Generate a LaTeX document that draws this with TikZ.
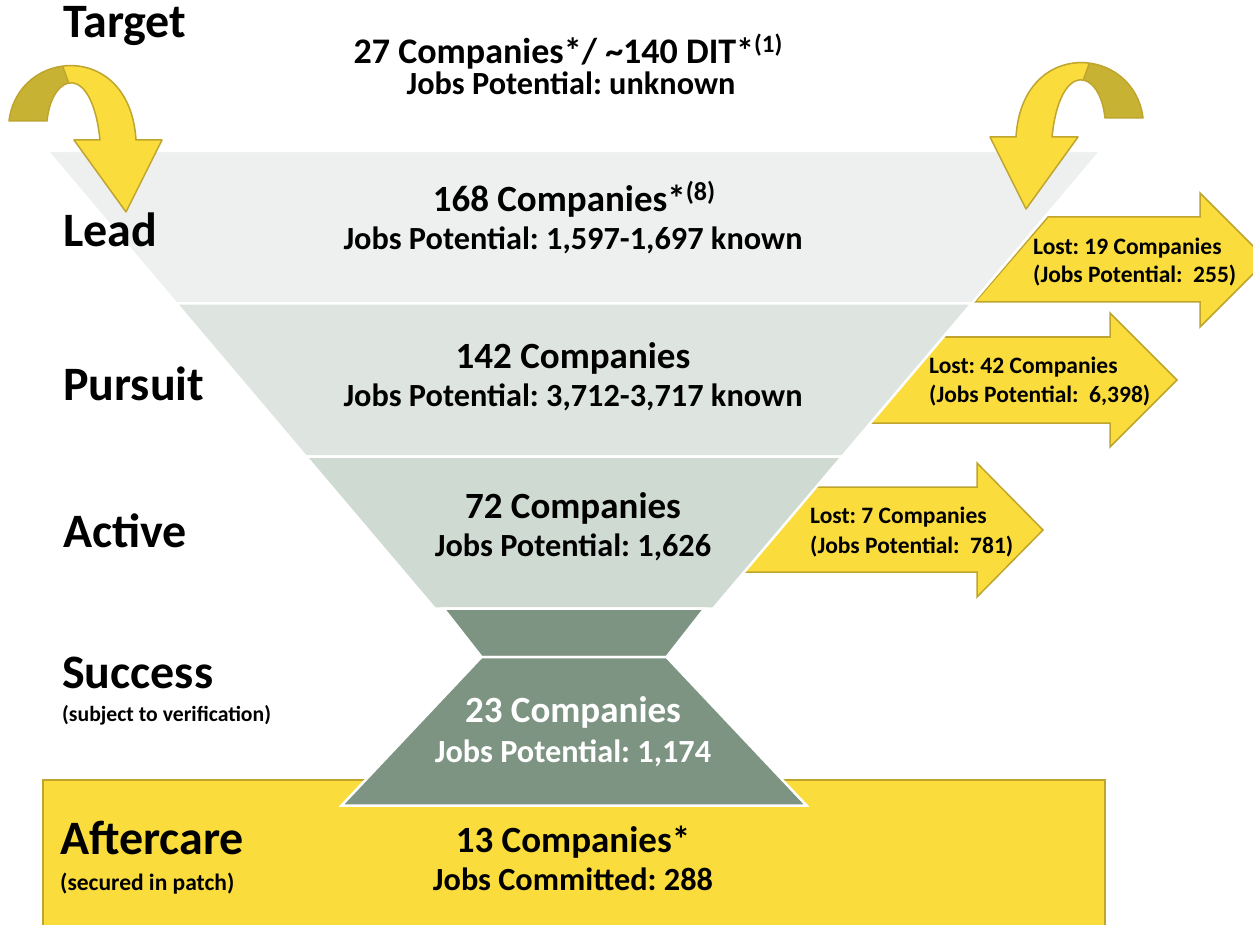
\documentclass[tikz,border=0pt]{standalone}
\usepackage{fontspec}
\setmainfont{Carlito}
\definecolor{ylw}{HTML}{FADC3C}
\definecolor{ylwdk}{HTML}{C8B234}
\definecolor{ylwedge}{HTML}{BFA52E}
\definecolor{leadc}{HTML}{EEF0EF}
\definecolor{pursc}{HTML}{DEE4E0}
\definecolor{actc}{HTML}{CFDAD3}
\definecolor{succc}{HTML}{7D9483}
\begin{document}
\frenchspacing
\begin{tikzpicture}[x=1pt,y=-1pt,
  band/.style={draw=white, line width=2.5pt, line join=miter},
  lostarrow/.style={fill=ylw, draw=ylwedge, line width=1.5pt, line join=miter},
  stage/.style={anchor=base west, font=\fontsize{48}{56}\selectfont\bfseries, inner sep=0pt},
  stagenote/.style={anchor=base west, font=\fontsize{21.7}{25}\selectfont\bfseries, inner sep=0pt},
  headline/.style={anchor=base, font=\fontsize{37}{44}\selectfont\bfseries, inner sep=0pt},
  subline/.style={anchor=base, font=\fontsize{32.3}{38}\selectfont\bfseries, inner sep=0pt},
  losttext/.style={anchor=base west, font=\fontsize{23.5}{27}\selectfont\bfseries, inner sep=0pt},
  curl/.pic={
    \fill[ylw] (9,121) .. controls (18,48) and (130,40) .. (136,140) -- (162,140) -- (126,212) -- (74,140) -- (100,140) .. controls (92,62) and (52,72) .. (47,121) -- cycle;
    \begin{scope}
      \clip (0,20) -- (45.4,20) -- (86.2,130) -- (0,130) -- cycle;
      \fill[ylwdk] (9,121) .. controls (18,48) and (130,40) .. (136,140) -- (100,140) .. controls (92,62) and (52,72) .. (47,121) -- cycle;
    \end{scope}
    \draw[ylwedge, line width=1.5pt, line join=round] (9,121) .. controls (18,48) and (130,40) .. (136,140) -- (162,140) -- (126,212) -- (74,140) -- (100,140) .. controls (92,62) and (52,72) .. (47,121) -- cycle;
    \draw[ylwedge, line width=1.5pt] (62.8,66.6) -- (68.6,82.6);
  }]
\useasboundingbox (0,0) rectangle (1253,925);
\clip (0,0) rectangle (1253,925);
\fill[white] (0,0) rectangle (1253,925);

% aftercare box
\draw[fill=ylw, draw=ylwedge, line width=1.5pt] (43,780) rectangle (1105,940);

% lost arrows
\draw[lostarrow] (1048,217) -- (1200,217) -- (1200,193) -- (1267,260) -- (1200,327) -- (1200,302) -- (975,302) -- cycle;
\draw[lostarrow] (942,337) -- (1110,337) -- (1110,313) -- (1177,380) -- (1110,447) -- (1110,423) -- (870,423) -- cycle;
\draw[lostarrow] (817,487) -- (977,487) -- (977,463) -- (1043,530) -- (977,597) -- (977,572) -- (742,572) -- cycle;

% funnel bands
\draw[band, fill=leadc] (47.2,151) -- (1100.8,151) -- (971.7,303.5) -- (176.3,303.5) -- cycle;
\draw[band, fill=pursc] (176.3,303.5) -- (971.7,303.5) -- (842.1,456.5) -- (305.9,456.5) -- cycle;
\draw[band, fill=actc] (305.9,456.5) -- (842.1,456.5) -- (713.3,608.5) -- (434.7,608.5) -- cycle;
\draw[band, fill=succc] (443.5,608.5) -- (704.5,608.5) -- (666.5,657) -- (481.5,657) -- cycle;
\draw[band, fill=succc] (481.5,657) -- (666.5,657) -- (806.5,805.5) -- (341.5,805.5) -- cycle;

% curved arrows
\pic at (0,0) {curl};
\pic[xscale=-1] at (1152,-3) {curl};

% stage labels
\node[stage] (target) at (63,38) {Target};
\node[stage] (lead) at (63,247) {Lead};
\node[stage] (pursuit) at (63,400) {Pursuit};
\node[stage] (active) at (63,547) {Active};
\node[stage] (success) at (62,688) {Success};
\node[stagenote] (successnote) at (62,721) {(subject to verification)};
\node[stage] (aftercare) at (60,854) {Aftercare};
\node[stagenote, font=\fontsize{23.5}{28}\selectfont\bfseries] (afternote) at (60,890) {(secured in patch)};

% funnel texts
\node[headline, font=\fontsize{36}{43}\selectfont\bfseries] (t1) at (568,64) {27 Companies*/ \textasciitilde140 DIT*{\fontsize{25}{29}\selectfont\raisebox{11pt}{(1)}}};
\node[subline] (t2) at (571,95) {Jobs Potential: unknown};
\node[headline] (l1) at (574,212) {168 Companies*{\fontsize{26}{30}\selectfont\raisebox{11pt}{(8)}}};
\node[subline] (l2) at (573,250) {Jobs Potential: 1,597-1,697 known};
\node[headline] (p1) at (573,368) {142 Companies};
\node[subline] (p2) at (573,406) {Jobs Potential: 3,712-3,717 known};
\node[headline] (a1) at (573,518) {72 Companies};
\node[subline] (a2) at (573,556) {Jobs Potential: 1,626};
\node[headline, text=white] (s1) at (573,722) {23 Companies};
\node[subline, text=white] (s2) at (573,762) {Jobs Potential: 1,174};
\node[headline] (c1) at (573,852) {13 Companies*};
\node[subline] (c2) at (573,890) {Jobs Committed: 288};

% lost texts
\node[losttext] (lost1a) at (1033,255) {Lost: 19 Companies};
\node[losttext] (lost1b) at (1033,283) {(Jobs Potential:\ \ 255)};
\node[losttext] (lost2a) at (929,373) {Lost: 42 Companies};
\node[losttext] (lost2b) at (929,402) {(Jobs Potential:\ \ 6,398)};
\node[losttext] (lost3a) at (810,523) {Lost: 7 Companies};
\node[losttext] (lost3b) at (810,553) {(Jobs Potential:\ \ 781)};
\end{tikzpicture}
\end{document}
